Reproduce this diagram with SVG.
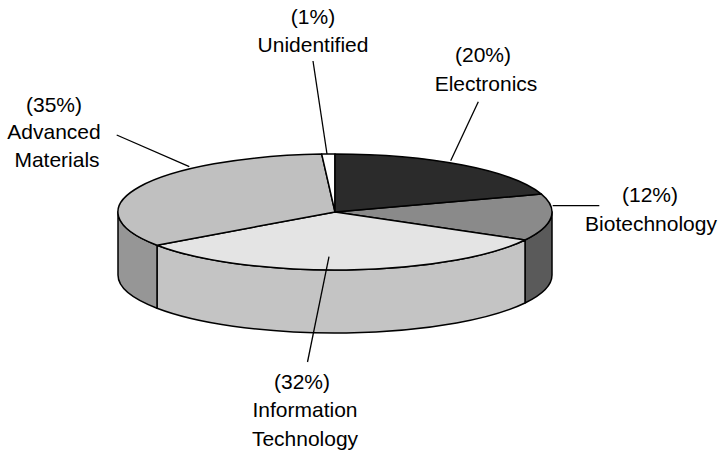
<svg xmlns="http://www.w3.org/2000/svg" width="720" height="452" viewBox="0 0 720 452">
<style>
.s{stroke:#000;stroke-width:1.5;stroke-linejoin:round}
.ld{stroke:#000;stroke-width:1.3;fill:none}
text{font-family:"Liberation Sans",Arial,sans-serif;font-size:21px;fill:#000;text-anchor:middle}
</style>
<rect width="720" height="452" fill="#fff"/>
<g id="biotechnology">
<path class="s" fill="#5a5a5a" d="M552,212 A217,58 0 0,1 525,240 L525,303 A217,58 0 0,0 552,275 Z"/>
<path class="s" fill="#8a8a8a" d="M335,212 L541.4,194.1 A217,58 0 0,1 525,240 Z"/>
<text x="650" y="202">(12%)</text>
<text x="651" y="231">Biotechnology</text>
</g>
<g id="information-technology">
<path class="s" fill="#c4c4c4" d="M525,240 A217,58 0 0,1 157,245.2 L157,308.2 A217,58 0 0,0 525,303 Z"/>
<path class="s" fill="#e4e4e4" d="M335,212 L525,240 A217,58 0 0,1 157,245.2 Z"/>
<text x="302" y="389">(32%)</text>
<text x="305" y="417">Information</text>
<text x="305" y="446">Technology</text>
</g>
<g id="advanced-materials">
<path class="s" fill="#969696" d="M157,245.2 A217,58 0 0,1 118,212 L118,275 A217,58 0 0,0 157,308.2 Z"/>
<path class="s" fill="#c0c0c0" d="M335,212 L157,245.2 A217,58 0 0,1 321.7,154.1 Z"/>
<text x="54" y="112">(35%)</text>
<text x="54" y="139">Advanced</text>
<text x="57" y="167">Materials</text>
</g>
<g id="unidentified">
<path class="s" fill="#fff" d="M335,212 L321.7,154.1 A217,58 0 0,1 335,154 Z"/>
<text x="313" y="24">(1%)</text>
<text x="313" y="52">Unidentified</text>
</g>
<g id="electronics">
<path class="s" fill="#2b2b2b" d="M335,212 L335,154 A217,58 0 0,1 541.4,194.1 Z"/>
<text x="483" y="62">(20%)</text>
<text x="486" y="91">Electronics</text>
</g>
<g id="connectors">
<line class="ld" x1="313" y1="61" x2="327" y2="154"/>
<line class="ld" x1="478.3" y1="101.7" x2="450.7" y2="160.7"/>
<line class="ld" x1="552.7" y1="205.7" x2="599.3" y2="205.7"/>
<line class="ld" x1="116.7" y1="135" x2="189.3" y2="166.7"/>
<line class="ld" x1="329" y1="256.7" x2="307.5" y2="362"/>
</g>
</svg>
